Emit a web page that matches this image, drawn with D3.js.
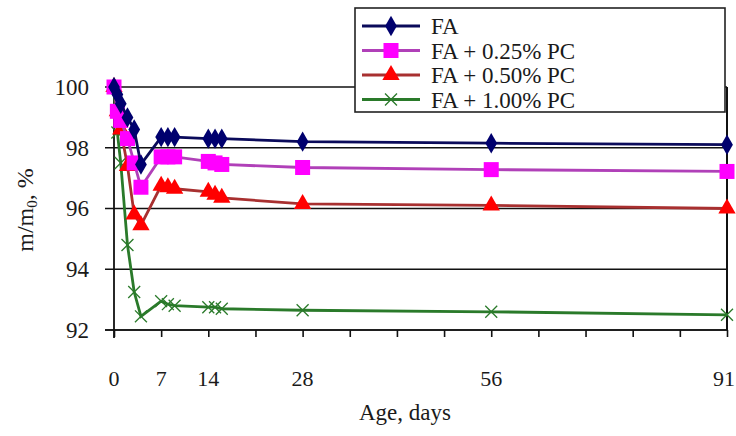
<!DOCTYPE html>
<meta charset="utf-8">
<html>
<head>
<title>Mass loss</title>
<style>
  body { margin: 0; background: #fff; }
  text { font-family: "Liberation Serif", "Times New Roman", serif; fill: #1a1a1a; }
  .grid line { stroke: #111; stroke-width: 1.3; }
  .axis path, .axis line { stroke: #111; stroke-width: 1.6; }
</style>
<script src="https://d3js.org/d3.v7.min.js"></script>
</head>
<body>
<svg width="736" height="436"></svg>
<script>
  // ages (days) and measured values
  var days = [0, 0.5, 1, 2, 3, 4, 7, 8, 9, 14, 15, 16, 28, 56, 91];
  var fa     = [100, 99.75, 99.45, 99.0, 98.6, 97.45, 98.35, 98.35, 98.35, 98.3, 98.3, 98.3, 98.2, 98.15, 98.1];
  var fa025  = [100, 99.2, 98.9, 98.3, 97.5, 96.7, 97.7, 97.7, 97.7, 97.55, 97.5, 97.45, 97.35, 97.28, 97.22];
  var fa050  = [100, 99.2, 98.6, 97.4, 95.8, 95.45, 96.75, 96.7, 96.65, 96.55, 96.45, 96.35, 96.15, 96.1, 96.0];
  var fa100  = [100, 98.5, 97.5, 94.8, 93.25, 92.45, 92.95, 92.85, 92.8, 92.75, 92.75, 92.7, 92.65, 92.6, 92.5];
  var seriesNames = ["FA", "FA + 0.25% PC", "FA + 0.50% PC", "FA + 1.00% PC"];
  var yTicks = [92, 94, 96, 98, 100];
  var xLabels = [0, 7, 14, 28, 56, 91];

  var svg = d3.select("svg");
  var x = d3.scaleLinear().domain([0, 91]).range([114, 727]);
  var y = d3.scaleLinear().domain([92, 100]).range([330, 87]);

  var styles = [
    {line: "#0a0a5a", fill: "#00006e", marker: "diamond"},
    {line: "#b040b8", fill: "#ff00ff", marker: "square"},
    {line: "#a83030", fill: "#ff0000", marker: "triangle"},
    {line: "#2a7a2a", fill: "#2a7a2a", marker: "cross"}
  ];
  var allSeries = [fa, fa025, fa050, fa100];

  // grid lines (extend past the y axis like ticks)
  svg.append("g").attr("class", "grid")
    .selectAll("line").data(yTicks).enter().append("line")
      .attr("x1", 105).attr("x2", 727)
      .attr("y1", function(d) { return y(d); })
      .attr("y2", function(d) { return y(d); });

  // right border
  svg.append("line").attr("x1", 727).attr("x2", 727)
    .attr("y1", y(100)).attr("y2", y(92))
    .attr("stroke", "#111").attr("stroke-width", 2);

  // y axis
  svg.append("line").attr("x1", x(0)).attr("x2", x(0))
    .attr("y1", y(100)).attr("y2", y(92) + 8)
    .attr("stroke", "#111").attr("stroke-width", 1.8);
  svg.append("g").selectAll("text").data(yTicks).enter().append("text")
    .attr("x", 89).attr("y", function(d) { return y(d); })
    .attr("dy", "0.34em").attr("text-anchor", "end")
    .style("font-size", "23px")
    .text(function(d) { return d; });

  // x axis
  var xAxis = d3.axisBottom(x).tickValues(d3.range(0, 92, 7)).tickSize(7).tickFormat("");
  svg.append("g").attr("class", "axis")
    .attr("transform", "translate(0," + y(92) + ")")
    .call(xAxis)
    .call(function(g) { g.select(".domain").attr("d", "M105,0H727"); });
  // last label sits against the right edge, so anchor it at its end
  svg.append("g").selectAll("text").data(xLabels).enter().append("text")
    .attr("x", function(d) { return d === 91 ? 735 : x(d); }).attr("y", 386)
    .attr("text-anchor", function(d) { return d === 91 ? "end" : "middle"; })
    .style("font-size", "22px")
    .text(function(d) { return d; });

  // axis titles
  svg.append("text").attr("x", 405).attr("y", 420)
    .attr("text-anchor", "middle").style("font-size", "23px")
    .text("Age, days");
  var yt = svg.append("text")
    .attr("transform", "translate(33,210) rotate(-90)")
    .attr("text-anchor", "middle").style("font-size", "24px");
  yt.append("tspan").text("m/m");
  yt.append("tspan").attr("baseline-shift", "-25%").style("font-size", "15px").text("0");
  yt.append("tspan").text(", %");

  function drawMarker(g, type, cx, cy, st) {
    if (type === "diamond") {
      g.append("path").attr("d", d3.symbol(d3.symbolDiamond, 120)())
        .attr("transform", "translate(" + cx + "," + cy + ")").attr("fill", st.fill);
    } else if (type === "square") {
      g.append("rect").attr("x", cx - 7.5).attr("y", cy - 7.5)
        .attr("width", 15).attr("height", 15).attr("fill", st.fill);
    } else if (type === "triangle") {
      g.append("path").attr("d", d3.symbol(d3.symbolTriangle, 130)())
        .attr("transform", "translate(" + cx + "," + cy + ")").attr("fill", st.fill);
    } else {
      g.append("path").attr("d", d3.symbol(d3.symbolTimes, 95)())
        .attr("transform", "translate(" + cx + "," + cy + ")")
        .attr("fill", "none").attr("stroke", st.fill).attr("stroke-width", 1.3);
    }
  }

  var line = d3.line()
    .x(function(d) { return x(d[0]); })
    .y(function(d) { return y(d[1]); });

  // draw green first so blue sits on top
  [3, 2, 1, 0].forEach(function(i) {
    var pts = days.map(function(d, j) { return [d, allSeries[i][j]]; });
    var g = svg.append("g");
    g.append("path").datum(pts).attr("d", line)
      .attr("fill", "none").attr("stroke", styles[i].line).attr("stroke-width", 2.8);
    pts.forEach(function(p) {
      drawMarker(g, styles[i].marker, x(p[0]), y(p[1]), styles[i]);
    });
  });

  // legend
  var lg = svg.append("g");
  lg.append("rect").attr("x", 355).attr("y", 8).attr("width", 370).attr("height", 104)
    .attr("fill", "#fff").attr("stroke", "#222").attr("stroke-width", 1.6);
  seriesNames.forEach(function(name, i) {
    var ly = 26 + i * 24.5;
    lg.append("line").attr("x1", 362).attr("x2", 420).attr("y1", ly).attr("y2", ly)
      .attr("stroke", styles[i].line).attr("stroke-width", 2.8);
    drawMarker(lg, styles[i].marker, 391, ly, styles[i]);
    lg.append("text").attr("x", 431).attr("y", ly).attr("dy", "0.35em")
      .style("font-size", "23px").text(name);
  });
</script>
</body>
</html>
